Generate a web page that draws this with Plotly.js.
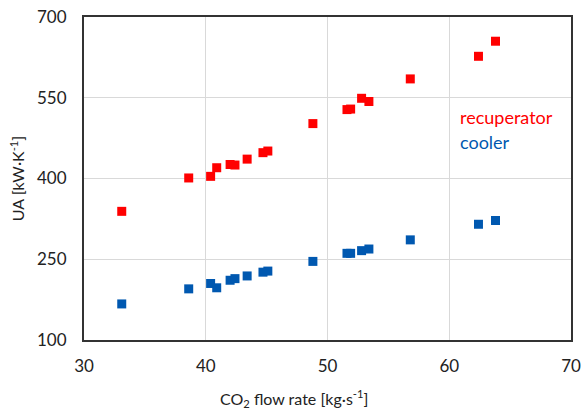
<!DOCTYPE html>
<html>
<head>
<meta charset="utf-8">
<script src="https://cdn.plot.ly/plotly-3.0.1.min.js"></script>
<style>html,body{margin:0;padding:0;background:#fff;}#chart{width:582px;height:410px;}</style>
</head>
<body>
<div id="chart"></div>
<script>
const flowRate = [33.1, 38.6, 40.4, 40.9, 42.0, 42.4, 43.4, 44.7, 45.1, 48.8, 51.6, 51.9, 52.8, 53.4, 56.8, 62.4, 63.8];
const recuperatorUA = [339, 401, 404, 420, 426, 425, 436, 448, 451, 502, 528, 529, 549, 543, 585, 627, 655];
const coolerUA = [167, 195, 205, 197, 211, 214, 219, 226, 228, 246, 261, 261, 266, 269, 286, 315, 322];
const seriesNames = ["recuperator", "cooler"];
const xTicks = [30, 40, 50, 60, 70];
const yTicks = [100, 250, 400, 550, 700];
const xTitle = "CO<sub>2</sub> flow rate [kg·s<sup>-1</sup>]";
const yTitle = "UA [kW·K<sup>-1</sup>]";

const fontFam = "Lato, 'Open Sans', sans-serif";
const traces = [
  {x: flowRate, y: recuperatorUA, name: seriesNames[0], mode: "markers", type: "scatter",
   marker: {symbol: "square", size: 9, color: "#FF0000"}},
  {x: flowRate, y: coolerUA, name: seriesNames[1], mode: "markers", type: "scatter",
   marker: {symbol: "square", size: 9, color: "#0058B0"}}
];
const layout = {
  width: 582, height: 410,
  margin: {l: 84, r: 11, t: 17, b: 70, pad: 0},
  paper_bgcolor: "#fff", plot_bgcolor: "#fff",
  showlegend: false,
  font: {family: fontFam, size: 17, color: "#222"},
  xaxis: {range: [30, 70], tickvals: xTicks, ticktext: xTicks.map(String),
    showgrid: true, gridcolor: "#d9d9d9", gridwidth: 1, zeroline: false,
    showline: true, mirror: true, linecolor: "#333", linewidth: 2,
    ticks: "", ticklabelstandoff: 10, tickfont: {size: 17, family: fontFam, color: "#222"}},
  yaxis: {range: [100, 700], tickvals: yTicks, ticktext: yTicks.map(String),
    showgrid: true, gridcolor: "#d9d9d9", gridwidth: 1, zeroline: false,
    showline: true, mirror: true, linecolor: "#333", linewidth: 2,
    ticks: "", ticklabelstandoff: 12, tickfont: {size: 17, family: fontFam, color: "#222"},
    title: {text: yTitle, font: {size: 16, family: fontFam, color: "#222"}, standoff: 8}},
  annotations: [
    {xref: "paper", yref: "paper", x: 0.431, y: -0.18, xanchor: "center", yanchor: "middle",
     text: xTitle, showarrow: false, font: {size: 16, family: fontFam, color: "#222"}},
    {xref: "paper", yref: "paper", x: 0.768, y: 0.69, xanchor: "left", yanchor: "middle",
     text: seriesNames[0], showarrow: false, font: {size: 18, family: fontFam, color: "#FF0000"}},
    {xref: "paper", yref: "paper", x: 0.768, y: 0.612, xanchor: "left", yanchor: "middle",
     text: seriesNames[1], showarrow: false, font: {size: 18, family: fontFam, color: "#0058B0"}}
  ]
};
Plotly.newPlot("chart", traces, layout, {displayModeBar: false, staticPlot: true});
</script>
</body>
</html>
